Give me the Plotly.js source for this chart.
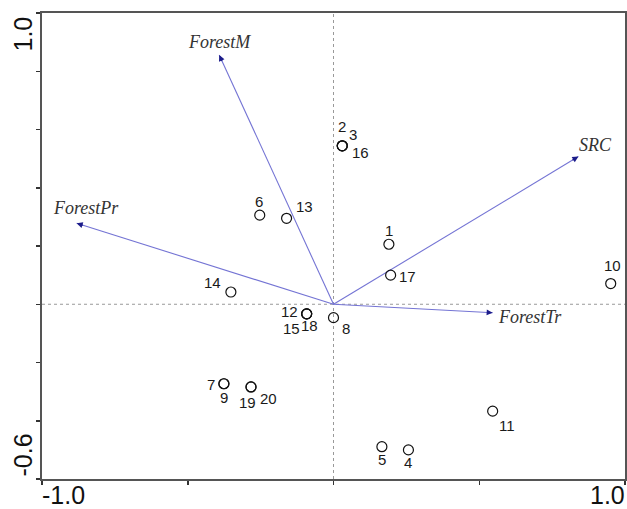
<!DOCTYPE html>
<html>
<head>
<meta charset="utf-8">
<script src="https://cdn.plot.ly/plotly-3.0.1.min.js"></script>
<style>html,body{margin:0;padding:0;background:#fff;}#chart{width:627px;height:509px;}</style>
</head>
<body>
<div id="chart"></div>
<script>
// ---- data ----
var sampleIds = ['1','2','3','4','5','6','7','8','9','10','11','12','13','14','15','16','17','18','19','20'];
var sampleX = [0.190, 0.030, 0.030, 0.257, 0.166, -0.253, -0.376, 0.000, -0.376, 0.951, 0.546, -0.092, -0.161, -0.352, -0.092, 0.030, 0.196, -0.092, -0.283, -0.283];
var sampleY = [0.206, 0.544, 0.544, -0.500, -0.489, 0.306, -0.273, -0.046, -0.273, 0.071, -0.367, -0.033, 0.295, 0.042, -0.033, 0.544, 0.100, -0.033, -0.284, -0.284];

var envNames = ['ForestM', 'ForestPr', 'SRC', 'ForestTr'];
var envX = [-0.392, -0.881, 0.840, 0.546];
var envY = [0.856, 0.278, 0.507, -0.029];

var xTickVals = [-1.0, -0.5, 0, 0.5, 1.0];
var yTickVals = [-0.6, -0.4, -0.2, 0, 0.2, 0.4, 0.6, 0.8, 1.0];
var xTickText = ['-1.0', '1.0'];
var yTickText = ['-0.6', '1.0'];
var xRange = [-1.0, 1.0];
var yRange = [-0.6, 1.0];

// ---- style / placement (pixels) ----
var labelDx = [0, 0, 11, 0, 0, -1, -13, 12, 0, 2, 14, -17, 18, -18, -15, 18, 17, 3, -4, 17];
var labelDy = [-14, -19, -11, 13, 13, -14, 1, 11, 14, -18, 14, -2, -12, -10, 15, 7, 1, 12, 16, 12];
var envDx = [0, 9, 17, 37];
var envDy = [-13, -15, -12, 4];

var traces = [];
for (var i = 0; i < envNames.length; i++) {
  traces.push({
    type: 'scatter', mode: 'lines', x: [0, envX[i]], y: [0, envY[i]],
    line: {color: '#7474d4', width: 1.1}, hoverinfo: 'skip', showlegend: false
  });
}
traces.push({
  type: 'scatter', mode: 'markers', x: sampleX, y: sampleY,
  marker: {symbol: 'circle-open', size: 10, color: '#111', line: {width: 1.2, color: '#111'}},
  showlegend: false, hoverinfo: 'skip'
});

var annotations = [];
for (var i = 0; i < sampleIds.length; i++) {
  annotations.push({
    x: sampleX[i], y: sampleY[i], xref: 'x', yref: 'y', text: sampleIds[i], showarrow: false,
    xanchor: 'center', yanchor: 'middle', xshift: labelDx[i], yshift: -labelDy[i],
    font: {family: 'Liberation Sans, Arial', size: 15, color: '#1a1a1a'}
  });
}
for (var i = 0; i < envNames.length; i++) {
  annotations.push({
    x: envX[i], y: envY[i], xref: 'x', yref: 'y', axref: 'x', ayref: 'y',
    ax: envX[i] * 0.97, ay: envY[i] * 0.97, text: '', showarrow: true,
    arrowhead: 2, arrowsize: 1, arrowwidth: 1.2, arrowcolor: '#1c1c8a', standoff: 0
  });
  annotations.push({
    x: envX[i], y: envY[i], xref: 'x', yref: 'y', text: '<i>' + envNames[i] + '</i>', showarrow: false,
    xanchor: 'center', yanchor: 'middle', xshift: envDx[i], yshift: -envDy[i],
    font: {family: 'Liberation Serif, Times New Roman', size: 18, color: '#333'}
  });
}
var tickFont = {family: 'Liberation Sans, Arial', size: 25, color: '#111'};
annotations.push({x: 0, y: 0, xref: 'paper', yref: 'paper', text: xTickText[0], showarrow: false,
  xanchor: 'left', yanchor: 'top', yshift: 0, xshift: -2, font: tickFont});
annotations.push({x: 1, y: 0, xref: 'paper', yref: 'paper', text: xTickText[1], showarrow: false,
  xanchor: 'right', yanchor: 'top', yshift: 0, xshift: 2, font: tickFont});
annotations.push({x: 0, y: 0, xref: 'paper', yref: 'paper', text: yTickText[0], showarrow: false,
  textangle: -90, xanchor: 'center', yanchor: 'bottom', xshift: -20, yshift: 0, font: tickFont});
annotations.push({x: 0, y: 1, xref: 'paper', yref: 'paper', text: yTickText[1], showarrow: false,
  textangle: -90, xanchor: 'center', yanchor: 'top', xshift: -20, yshift: -2, font: tickFont});

var layout = {
  width: 627, height: 509,
  margin: {l: 42, r: 2, t: 13, b: 30, pad: 0},
  paper_bgcolor: '#fff', plot_bgcolor: '#fff',
  showlegend: false,
  xaxis: {range: xRange, tickvals: xTickVals, showticklabels: false, ticks: 'outside', ticklen: 4,
    tickwidth: 1.5, tickcolor: '#333', showgrid: false, zeroline: false,
    showline: true, mirror: true, linecolor: '#555', linewidth: 2},
  yaxis: {range: yRange, tickvals: yTickVals, showticklabels: false, ticks: 'outside', ticklen: 4,
    tickwidth: 1.5, tickcolor: '#333', showgrid: false, zeroline: false,
    showline: true, mirror: true, linecolor: '#555', linewidth: 2},
  shapes: [
    {type: 'line', xref: 'x', yref: 'y', x0: 0, x1: 0, y0: yRange[0], y1: yRange[1],
      line: {color: '#999', width: 1, dash: 'dot'}, layer: 'below'},
    {type: 'line', xref: 'x', yref: 'y', x0: xRange[0], x1: xRange[1], y0: 0, y1: 0,
      line: {color: '#999', width: 1, dash: 'dot'}, layer: 'below'}
  ],
  annotations: annotations
};

Plotly.newPlot('chart', traces, layout, {staticPlot: true, displayModeBar: false});
</script>
</body>
</html>
